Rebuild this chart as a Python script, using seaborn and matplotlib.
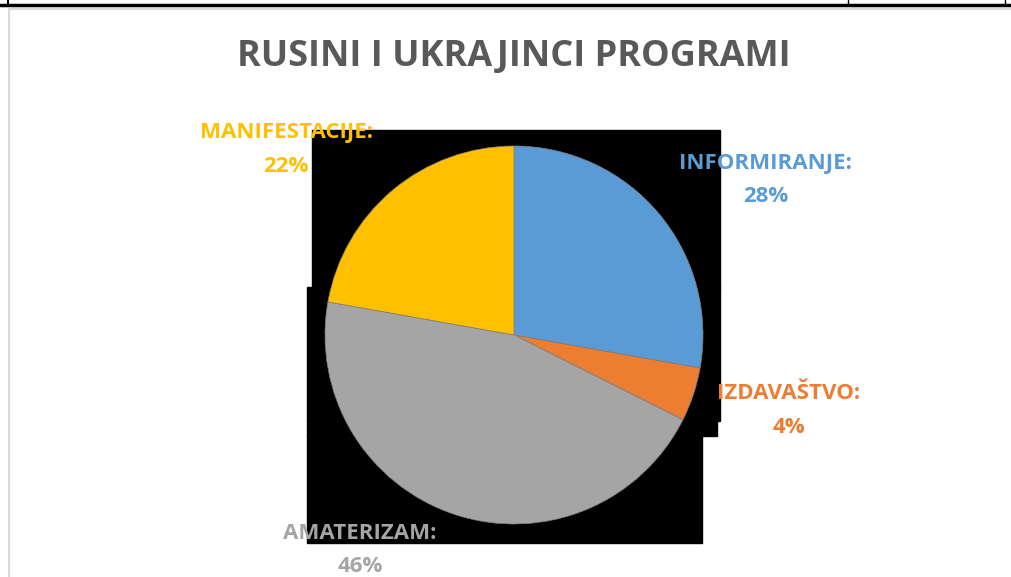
import matplotlib
matplotlib.use("Agg")
import matplotlib.pyplot as plt
from matplotlib.patches import Rectangle
from matplotlib.lines import Line2D
import seaborn as sns

# ---- data ----
kategorije = ["INFORMIRANJE", "IZDAVAŠTVO", "AMATERIZAM", "MANIFESTACIJE"]
udjeli = [27.8, 4.6, 45.4, 22.2]
oznake_posto = ["28%", "4%", "46%", "22%"]
boje = ["#5B9BD5", "#ED7D31", "#A5A5A5", "#FFC000"]
naslov = "RUSINI I UKRAJINCI PROGRAMI"

W, H = 1011, 577

sns.set_theme(style="white")
plt.rcParams["font.family"] = ["Open Sans", "DejaVu Sans"]

fig = plt.figure(figsize=(W / 100, H / 100), dpi=100)
fig.patch.set_facecolor("white")


def px(x, y):
    # piksel (od gornjeg lijevog kuta) -> figura
    return x / W, 1 - y / H


# crni pravokutnici iza grafa (kao na izvorniku)
for x0, y0, x1, y1 in [(312, 130, 720, 288), (307, 287, 720, 421),
                       (307, 420, 717, 436), (307, 435, 702, 543)]:
    fx, fy = px(x0, y1)
    fig.patches.append(Rectangle((fx, fy), (x1 - x0) / W, (y1 - y0) / H,
                                 transform=fig.transFigure, color="black",
                                 zorder=-5))

# rub tablice na vrhu
for xs, ys, c, lw in [([0, W], [5, 5], "black", 2.5),
                      ([8, 8], [0, 5], "black", 1.5),
                      ([848, 848], [0, 5], "black", 1.0),
                      ([1005, 1005], [0, 5], "black", 1.0),
                      ([9, W], [9, 9], "#d9d9d9", 1.5),
                      ([9, 9], [9, H], "#d9d9d9", 1.5)]:
    fig.add_artist(Line2D([x / W for x in xs], [1 - y / H for y in ys],
                          transform=fig.transFigure, color=c, linewidth=lw))

cx, cy, r = 514, 335, 189
ax = fig.add_axes([(cx - r) / W, (H - cy - r) / H, 2 * r / W, 2 * r / H])
ax.set_zorder(2)
ax.set_facecolor("none")
ax.pie(udjeli, colors=boje, startangle=90, counterclock=False, radius=1,
       wedgeprops=dict(edgecolor="#7f7f7f", linewidth=0.5))
ax.set_xlim(-1, 1)
ax.set_ylim(-1, 1)
ax.set_aspect("equal")
ax.axis("off")

# pozicije oznaka (u koordinatama pite)
poz = [(1.333, 0.91), (1.455, -0.312), (-0.815, -1.048), (-1.206, 1.069)]
for (x, y), kat, p, c in zip(poz, kategorije, oznake_posto, boje):
    ax.text(x, y, kat + ":", ha="center", va="center", color=c,
            fontsize=16, fontweight="bold", clip_on=False)
    ax.text(x, y - 0.175, p, ha="center", va="center", color=c,
            fontsize=16, fontweight="bold", clip_on=False)

fx, fy = px(514, 57)
fig.text(fx, fy, naslov, ha="center", va="center", color="#595959",
         fontsize=26, fontweight="bold")

fig.savefig("out.png", dpi=100)
